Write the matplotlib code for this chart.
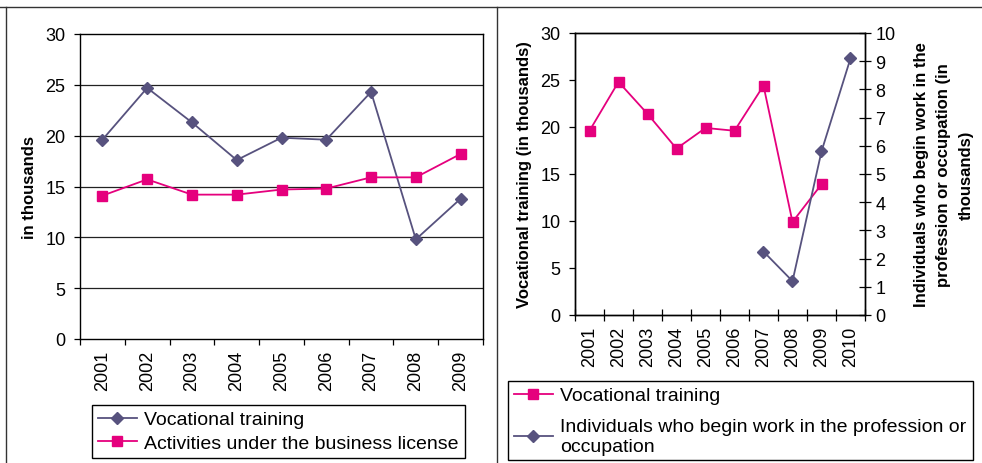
import matplotlib
matplotlib.use("Agg")
import matplotlib.pyplot as plt
from matplotlib.lines import Line2D
import numpy as np

plt.rcParams['font.family'] = ['Liberation Sans', 'DejaVu Sans']

# ---- data ----
left_years = ['2001', '2002', '2003', '2004', '2005', '2006', '2007', '2008', '2009']
left_vocational = [19.6, 24.7, 21.3, 17.6, 19.8, 19.6, 24.3, 9.8, 13.8]
left_business = [14.1, 15.7, 14.2, 14.2, 14.7, 14.8, 15.9, 15.9, 18.2]

right_years = ['2001', '2002', '2003', '2004', '2005', '2006', '2007', '2008', '2009', '2010']
right_vocational = [19.6, 24.8, 21.4, 17.7, 19.9, 19.6, 24.4, 9.9, 13.9]
right_indiv_years = ['2007', '2008', '2009', '2010']
right_individuals = [2.25, 1.2, 5.8, 9.1]

PURPLE = '#57527E'
PINK = '#E5007D'

W, H = 982, 464
fig = plt.figure(figsize=(W / 100, H / 100), dpi=100)
fig.patch.set_facecolor('white')

TICK_FS = 13
LAB_FS = 12
LEG_FS = 14


def px_axes(x0, y0, x1, y1):
    return fig.add_axes([x0 / W, 1 - y1 / H, (x1 - x0) / W, (y1 - y0) / H])


# ---- frame lines ----
def fline(x0, y0, x1, y1, c='#333333', lw=1.0):
    fig.add_artist(Line2D([x0 / W, x1 / W], [1 - y0 / H, 1 - y1 / H],
                          transform=fig.transFigure, color=c, lw=lw))


fline(0, 8, W, 8)
fline(6, 8, 6, H)
fline(497, 8, 497, H)

# ---- left chart ----
axl = px_axes(80, 35, 483, 340)
n = len(left_years)
xc = np.arange(n) + 0.5
axl.set_xlim(0, n)
axl.set_ylim(0, 30)
axl.set_yticks(np.arange(0, 31, 5))
for y in range(5, 30, 5):
    axl.axhline(y, color='#222222', lw=0.9, zorder=1)
axl.plot(xc, left_vocational, color=PURPLE, lw=1.3, marker='D', markersize=6.2,
         label='Vocational training', zorder=3)
axl.plot(xc, left_business, color=PINK, lw=1.3, marker='s', markersize=6.7,
         label='Activities under the business license', zorder=3)
axl.set_xticks(np.arange(0, n + 1))
axl.set_xticklabels([])
axl.set_xticks(xc, minor=True)
axl.set_xticklabels(left_years, minor=True, rotation=90, fontsize=TICK_FS)
axl.tick_params(axis='x', which='major', length=4, width=0.9, direction='out')
axl.tick_params(axis='x', which='minor', length=0, pad=8)
axl.tick_params(axis='y', length=4.5, width=0.9, direction='out', pad=6,
                labelsize=TICK_FS)
for s in axl.spines.values():
    s.set_color('black')
    s.set_linewidth(1.0)
axl.set_ylabel('in thousands', fontsize=LAB_FS, fontweight='bold', labelpad=6)
axl.legend(loc='upper left', bbox_to_anchor=(92 / W, 1 - 406 / H),
           bbox_transform=fig.transFigure, borderaxespad=0, fontsize=LEG_FS,
           frameon=True, fancybox=False, edgecolor='black', framealpha=1,
           handlelength=2.0, handletextpad=0.4, labelspacing=0.3,
           borderpad=0.3)
axl.get_legend().get_frame().set_linewidth(1.0)

# ---- right chart ----
axr = px_axes(575, 34, 865, 316)
m = len(right_years)
xr = np.arange(m) + 0.5
axr.set_xlim(0, m)
axr.set_ylim(0, 30)
axr.set_yticks(np.arange(0, 31, 5))
lv, = axr.plot(xr[:len(right_vocational)], right_vocational, color=PINK, lw=1.3,
               marker='s', markersize=6.5, label='Vocational training', zorder=3)
axr.set_xticks(np.arange(0, m + 1))
axr.set_xticklabels([])
axr.set_xticks(xr, minor=True)
axr.set_xticklabels(right_years, minor=True, rotation=90, fontsize=TICK_FS)
axr.tick_params(axis='x', which='major', length=8, width=0.9, direction='inout')
axr.tick_params(axis='x', which='minor', length=0, pad=8)
axr.tick_params(axis='y', length=4.5, width=0.9, direction='out', pad=6,
                labelsize=TICK_FS)
axr.set_ylabel('Vocational training (in thousands)', fontsize=LAB_FS,
               fontweight='bold', labelpad=6)

ax2 = axr.twinx()
ax2.set_ylim(0, 10)
ax2.set_yticks(np.arange(0, 11, 1))
idx = [right_years.index(y) for y in right_indiv_years]
li, = ax2.plot(xr[idx], right_individuals, color=PURPLE, lw=1.3, marker='D',
               markersize=6.2, zorder=3,
               label='Individuals who begin work in the profession or\noccupation')
ax2.tick_params(axis='y', length=9, width=0.9, direction='inout', pad=3,
                labelsize=TICK_FS)
ax2.set_ylabel('Individuals who begin work in the\nprofession or occupation (in\nthousands)',
               fontsize=LAB_FS, fontweight='bold', labelpad=13, rotation=90,
               multialignment='center', linespacing=1.65)
for a in (axr, ax2):
    for s in a.spines.values():
        s.set_color('black')
        s.set_linewidth(1.0)

leg = ax2.legend(handles=[lv, li], loc='upper left',
                 bbox_to_anchor=(508 / W, 1 - 382 / H),
                 bbox_transform=fig.transFigure, borderaxespad=0, fontsize=LEG_FS,
                 frameon=True, fancybox=False, edgecolor='black', framealpha=1,
                 handlelength=2.0, handletextpad=0.4, labelspacing=0.7,
                 borderpad=0.3)
leg.get_frame().set_linewidth(1.0)

fig.savefig('out.png', dpi=100, facecolor='white')
